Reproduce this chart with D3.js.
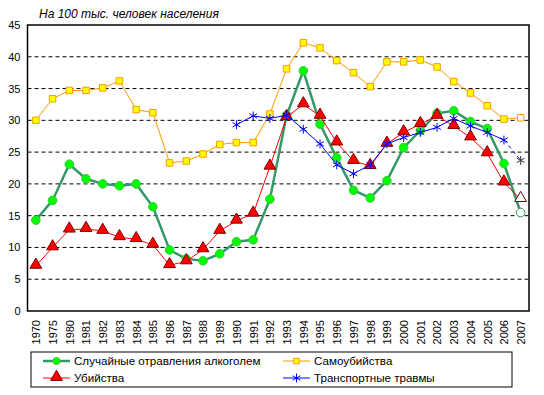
<!DOCTYPE html>
<html>
<head>
<meta charset="utf-8">
<script src="https://cdn.jsdelivr.net/npm/d3@7"></script>
<style>
  body { margin: 0; background: #fff; }
  svg text { font-family: "Liberation Sans", Arial, sans-serif; }
</style>
</head>
<body>
<svg id="chart" width="544" height="395"></svg>
<script>
// years on the x axis
let years = ["1970","1975","1980","1981","1982","1983","1984","1985","1986","1987","1988","1989",
  "1990","1991","1992","1993","1994","1995","1996","1997","1998","1999","2000","2001","2002",
  "2003","2004","2005","2006","2007"];

let alcohol = [14.3,17.4,23.1,20.8,20.0,19.7,20.0,16.4,9.6,8.2,7.9,9.0,10.9,11.2,17.6,
  30.8,37.8,29.4,24.1,19.0,17.8,20.5,25.7,28.4,31.1,31.5,29.8,28.7,23.2,15.5];
let suicides = [30.0,33.4,34.7,34.7,35.1,36.2,31.7,31.2,23.3,23.6,24.7,26.2,26.5,26.5,31.0,
  38.1,42.2,41.4,39.4,37.5,35.3,39.2,39.2,39.5,38.4,36.1,34.3,32.3,30.2,30.4];
let murders = [7.1,10.0,12.8,12.9,12.6,11.6,11.3,10.4,7.2,7.8,9.7,12.6,14.2,15.3,22.7,
  30.5,32.5,30.7,26.5,23.6,22.8,26.3,28.1,29.4,30.7,29.1,27.3,24.8,20.2,17.6];
// transport only from 1990
let transport = [null,null,null,null,null,null,null,null,null,null,null,null,29.3,30.7,30.3,
  30.8,28.6,26.3,23.0,21.6,23.0,26.3,27.3,28.1,28.9,30.3,29.1,28.1,26.9,23.7];

let yTicks = [0,5,10,15,20,25,30,35,40,45];
let seriesNames = ["Случайные отравления алкоголем", "Самоубийства", "Убийства", "Транспортные травмы"];
let title = "На 100 тыс. человек населения";

let svg = d3.select("#chart");
let margin = {"left": 27.5, "top": 25, "right": 15, "bottom": 84};
let width = 544, height = 395;

let x = d3.scalePoint().domain(years).range([margin.left, width - margin.right]).padding(0.5);
let y = d3.scaleLinear().domain([0, 45]).range([height - margin.bottom, margin.top]);

// dashed grid
svg.append("g").selectAll("line")
  .data(yTicks.filter(d => d > 0 && d < 45))
  .enter().append("line")
    .attr("x1", margin.left).attr("x2", width - margin.right)
    .attr("y1", d => y(d)).attr("y2", d => y(d))
    .attr("stroke", "#000")
    .attr("stroke-dasharray", "4,3");

// plot frame
svg.append("rect")
  .attr("x", margin.left).attr("y", margin.top)
  .attr("width", width - margin.right - margin.left)
  .attr("height", height - margin.bottom - margin.top)
  .attr("fill", "none").attr("stroke", "#000").attr("stroke-width", 1.5);

// y axis
let yAxis = svg.append("g").attr("transform", `translate(${margin.left},0)`)
  .call(d3.axisLeft(y).tickValues(yTicks).tickSize(0).tickPadding(7));
yAxis.select(".domain").remove();
yAxis.selectAll("text").attr("font-size", 11).attr("fill", "#000")
  .style("font-family", "Liberation Sans, Arial, sans-serif");

// x axis labels rotated
let xAxis = svg.append("g").attr("transform", `translate(0,${height - margin.bottom})`)
  .call(d3.axisBottom(x).tickSize(0).tickPadding(0));
xAxis.select(".domain").remove();
xAxis.selectAll("text")
  .attr("font-size", 11).attr("fill", "#000")
  .style("font-family", "Liberation Sans, Arial, sans-serif")
  .attr("text-anchor", "end")
  .attr("transform", "rotate(-90)")
  .attr("x", -9).attr("y", 0).attr("dy", "0.35em");

svg.append("text")
  .attr("x", 39).attr("y", 17.5)
  .attr("font-size", 12).attr("font-style", "italic")
  .text(title);

let line = d3.line()
  .defined(d => d.v !== null)
  .x(d => x(d.year)).y(d => y(d.v));

function toPoints(arr){ return arr.map((v, i) => ({"year": years[i], "v": v, "last": i === years.length - 1})); }

let tri = d3.symbol().type(d3.symbolTriangle).size(60);
let sq = d3.symbol().type(d3.symbolSquare).size(42);
let ast = d3.symbol().type(d3.symbolAsterisk).size(55);

// green - alcohol
let gAlc = svg.append("g");
gAlc.append("path").datum(toPoints(alcohol))
  .attr("d", line).attr("fill", "none").attr("stroke", "#339966").attr("stroke-width", 2.5);
gAlc.selectAll("circle").data(toPoints(alcohol)).enter().append("circle")
  .attr("cx", d => x(d.year)).attr("cy", d => y(d.v)).attr("r", 4.3)
  .attr("fill", d => d.last ? "#fff" : "#00ff00")
  .attr("stroke", d => d.last ? "#339966" : "#33cc33").attr("stroke-width", 1);

// orange - suicides
let gSui = svg.append("g");
gSui.append("path").datum(toPoints(suicides))
  .attr("d", line).attr("fill", "none").attr("stroke", "#ff9900").attr("stroke-width", 1);
gSui.selectAll("path.m").data(toPoints(suicides)).enter().append("path").attr("class", "m")
  .attr("d", sq).attr("transform", d => `translate(${x(d.year)},${y(d.v)})`)
  .attr("fill", d => d.last ? "#fff" : "#ffff00")
  .attr("stroke", "#ff9900").attr("stroke-width", 1);

// red - murders
let gMur = svg.append("g");
gMur.append("path").datum(toPoints(murders))
  .attr("d", line).attr("fill", "none").attr("stroke", "#ff0000").attr("stroke-width", 1);
gMur.selectAll("path.m").data(toPoints(murders)).enter().append("path").attr("class", "m")
  .attr("d", tri).attr("transform", d => `translate(${x(d.year)},${y(d.v) - 1})`)
  .attr("fill", d => d.last ? "#fff" : "#ff0000")
  .attr("stroke", "#800000").attr("stroke-width", 1);

// blue - transport, last segment dashed
let tp = toPoints(transport);
let gTr = svg.append("g");
gTr.append("path").datum(tp.slice(0, -1))
  .attr("d", line).attr("fill", "none").attr("stroke", "#0000ff").attr("stroke-width", 1);
gTr.append("path").datum(tp.slice(-2))
  .attr("d", line).attr("fill", "none").attr("stroke", "#0000ff").attr("stroke-width", 1)
  .attr("stroke-dasharray", "4,3");
gTr.selectAll("path.m").data(tp.filter(d => d.v !== null)).enter().append("path").attr("class", "m")
  .attr("d", ast).attr("transform", d => `translate(${x(d.year)},${y(d.v)})`)
  .attr("fill", "none").attr("stroke", d => d.last ? "#333" : "#0000ff").attr("stroke-width", 1);

// legend
let leg = svg.append("g");
leg.append("rect").attr("x", 31).attr("y", 352).attr("width", 481).attr("height", 35)
  .attr("fill", "#fff").attr("stroke", "#000").attr("stroke-width", 1);
let legItems = [
  {"name": seriesNames[0], "x": 43, "y": 361, "color": "#339966", "w": 2.5, "mark": "circle"},
  {"name": seriesNames[1], "x": 283, "y": 361, "color": "#ff9900", "w": 1, "mark": "square"},
  {"name": seriesNames[2], "x": 43, "y": 378, "color": "#ff0000", "w": 1, "mark": "triangle"},
  {"name": seriesNames[3], "x": 283, "y": 378, "color": "#0000ff", "w": 1, "mark": "asterisk"}
];
legItems.forEach(function(it){
  leg.append("line").attr("x1", it.x).attr("x2", it.x + 27).attr("y1", it.y).attr("y2", it.y)
    .attr("stroke", it.color).attr("stroke-width", it.w);
  let cx = it.x + 13.5;
  if (it.mark === "circle"){
    leg.append("circle").attr("cx", cx).attr("cy", it.y).attr("r", 3.5).attr("fill", "#00ff00").attr("stroke", "#33cc33");
  } else if (it.mark === "square"){
    leg.append("path").attr("d", d3.symbol().type(d3.symbolSquare).size(30)).attr("transform", `translate(${cx},${it.y})`)
      .attr("fill", "#ffff00").attr("stroke", "#ff9900");
  } else if (it.mark === "triangle"){
    leg.append("path").attr("d", tri).attr("transform", `translate(${cx},${it.y - 1})`)
      .attr("fill", "#ff0000").attr("stroke", "#800000");
  } else {
    leg.append("path").attr("d", ast).attr("transform", `translate(${cx},${it.y})`)
      .attr("fill", "none").attr("stroke", "#0000ff");
  }
  leg.append("text").attr("x", it.x + 31).attr("y", it.y).attr("dy", "0.35em")
    .attr("font-size", 11.6).text(it.name);
});
</script>
</body>
</html>
